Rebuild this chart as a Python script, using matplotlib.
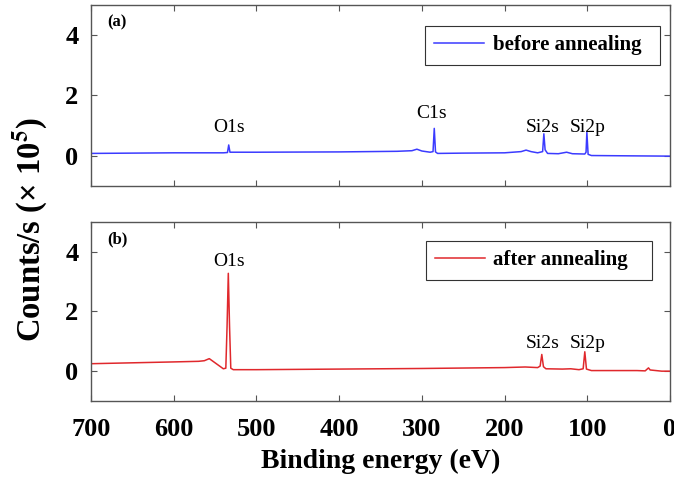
import matplotlib
matplotlib.use("Agg")
import matplotlib.pyplot as plt

# ---- data ----
before_energy = [700, 600, 540, 535, 533.5, 532, 500, 400, 330, 312, 306, 300, 290,
                 286.5, 285, 283.5, 281, 250, 200, 180, 174, 168, 160, 154, 152.5,
                 151, 148, 135, 125, 118, 103, 101.5, 100.5, 99, 95, 50, 0]
before_counts = [0.08, 0.10, 0.10, 0.11, 0.36, 0.12, 0.12, 0.13, 0.15, 0.17, 0.22, 0.16, 0.12,
                 0.14, 0.91, 0.13, 0.08, 0.09, 0.10, 0.14, 0.19, 0.14, 0.10, 0.14, 0.73,
                 0.20, 0.08, 0.07, 0.12, 0.07, 0.06, 0.12, 0.78, 0.05, 0.01, 0.00, -0.01]

after_energy = [700, 650, 600, 570, 563, 557, 552, 545, 540, 537, 535.5, 534, 532.5,
                531, 528, 500, 400, 300, 200, 175, 160, 157, 155, 153, 150, 130,
                120, 110, 105, 103, 101, 95, 40, 30, 26, 24, 10, 0]
after_counts = [0.25, 0.28, 0.31, 0.33, 0.35, 0.42, 0.32, 0.18, 0.08, 0.10, 1.50, 3.28, 1.50,
                0.10, 0.05, 0.05, 0.07, 0.09, 0.12, 0.14, 0.12, 0.17, 0.56, 0.15, 0.08, 0.07,
                0.08, 0.05, 0.08, 0.65, 0.07, 0.02, 0.02, 0.01, 0.11, 0.04, 0.00, 0.00]

labels_before = ["O1s", "C1s", "Si2s", "Si2p"]
labels_before_x = [533, 288, 154, 100]
labels_before_y = [0.95, 1.40, 0.95, 0.95]
labels_after = ["O1s", "Si2s", "Si2p"]
labels_after_x = [533, 154, 100]
labels_after_y = [3.66, 0.94, 0.94]

xticks = [700, 600, 500, 400, 300, 200, 100, 0]
yticks = [0, 2, 4]

plt.rcParams['font.family'] = ['Liberation Serif', 'DejaVu Serif']
plt.rcParams['mathtext.fontset'] = 'stix'

fig = plt.figure(figsize=(6.74, 4.79), dpi=100)
ax1 = fig.add_axes([91/674, 1-186/479, 579/674, 181/479])
ax2 = fig.add_axes([91/674, 1-401/479, 579/674, 179/479])

spine_col = '#555555'
for ax in (ax1, ax2):
    ax.set_xlim(700, 0)
    ax.set_ylim(-1, 5)
    ax.set_xticks(xticks)
    ax.set_yticks(yticks)
    ax.tick_params(direction='in', top=True, right=True, length=4, width=0.8,
                   color=spine_col, labelsize=19)
    ax.tick_params(axis='x', pad=12)
    ax.tick_params(axis='y', pad=9)
    for s in ax.spines.values():
        s.set_color(spine_col)
        s.set_linewidth(1.0)
    for lab in ax.get_xticklabels() + ax.get_yticklabels():
        lab.set_fontweight('bold')

ax1.tick_params(labelbottom=False)

ax1.plot(before_energy, before_counts, color='#3b3bff', lw=1.1, label='before annealing')
ax2.plot(after_energy, after_counts, color='#e0282c', lw=1.1, label='after annealing')

for t, x, y in zip(labels_before, labels_before_x, labels_before_y):
    ax1.text(x, y, t, ha='center', va='center', fontsize=14)
for t, x, y in zip(labels_after, labels_after_x, labels_after_y):
    ax2.text(x, y, t, ha='center', va='center', fontsize=14)

ax1.text(0.028, 0.905, '(a)', transform=ax1.transAxes, fontsize=12, fontweight='bold', va='center')
ax2.text(0.028, 0.905, '(b)', transform=ax2.transAxes, fontsize=12, fontweight='bold', va='center')

legend_boxes = [(0.577, 0.685, 0.406, 0.2), (0.578, 0.69, 0.391, 0.204)]
for ax, bb in zip((ax1, ax2), legend_boxes):
    leg = ax.legend(loc='upper left', bbox_to_anchor=bb, mode='expand', borderaxespad=0,
                    fancybox=False, framealpha=1, edgecolor='#333333', handlelength=2.4,
                    handletextpad=0.4, prop={'weight': 'bold', 'size': 15}, borderpad=0.45)
    leg.get_frame().set_linewidth(0.8)

ax2.set_xlabel('Binding energy (eV)', fontsize=20, fontweight='bold', labelpad=6)
fig.text(30/674, 1-230/479, r'Counts/s (× 10$^{\mathbf{5}}$)', rotation=90,
         ha='center', va='center', fontsize=23.5, fontweight='bold')

fig.savefig('out.png', dpi=100)
